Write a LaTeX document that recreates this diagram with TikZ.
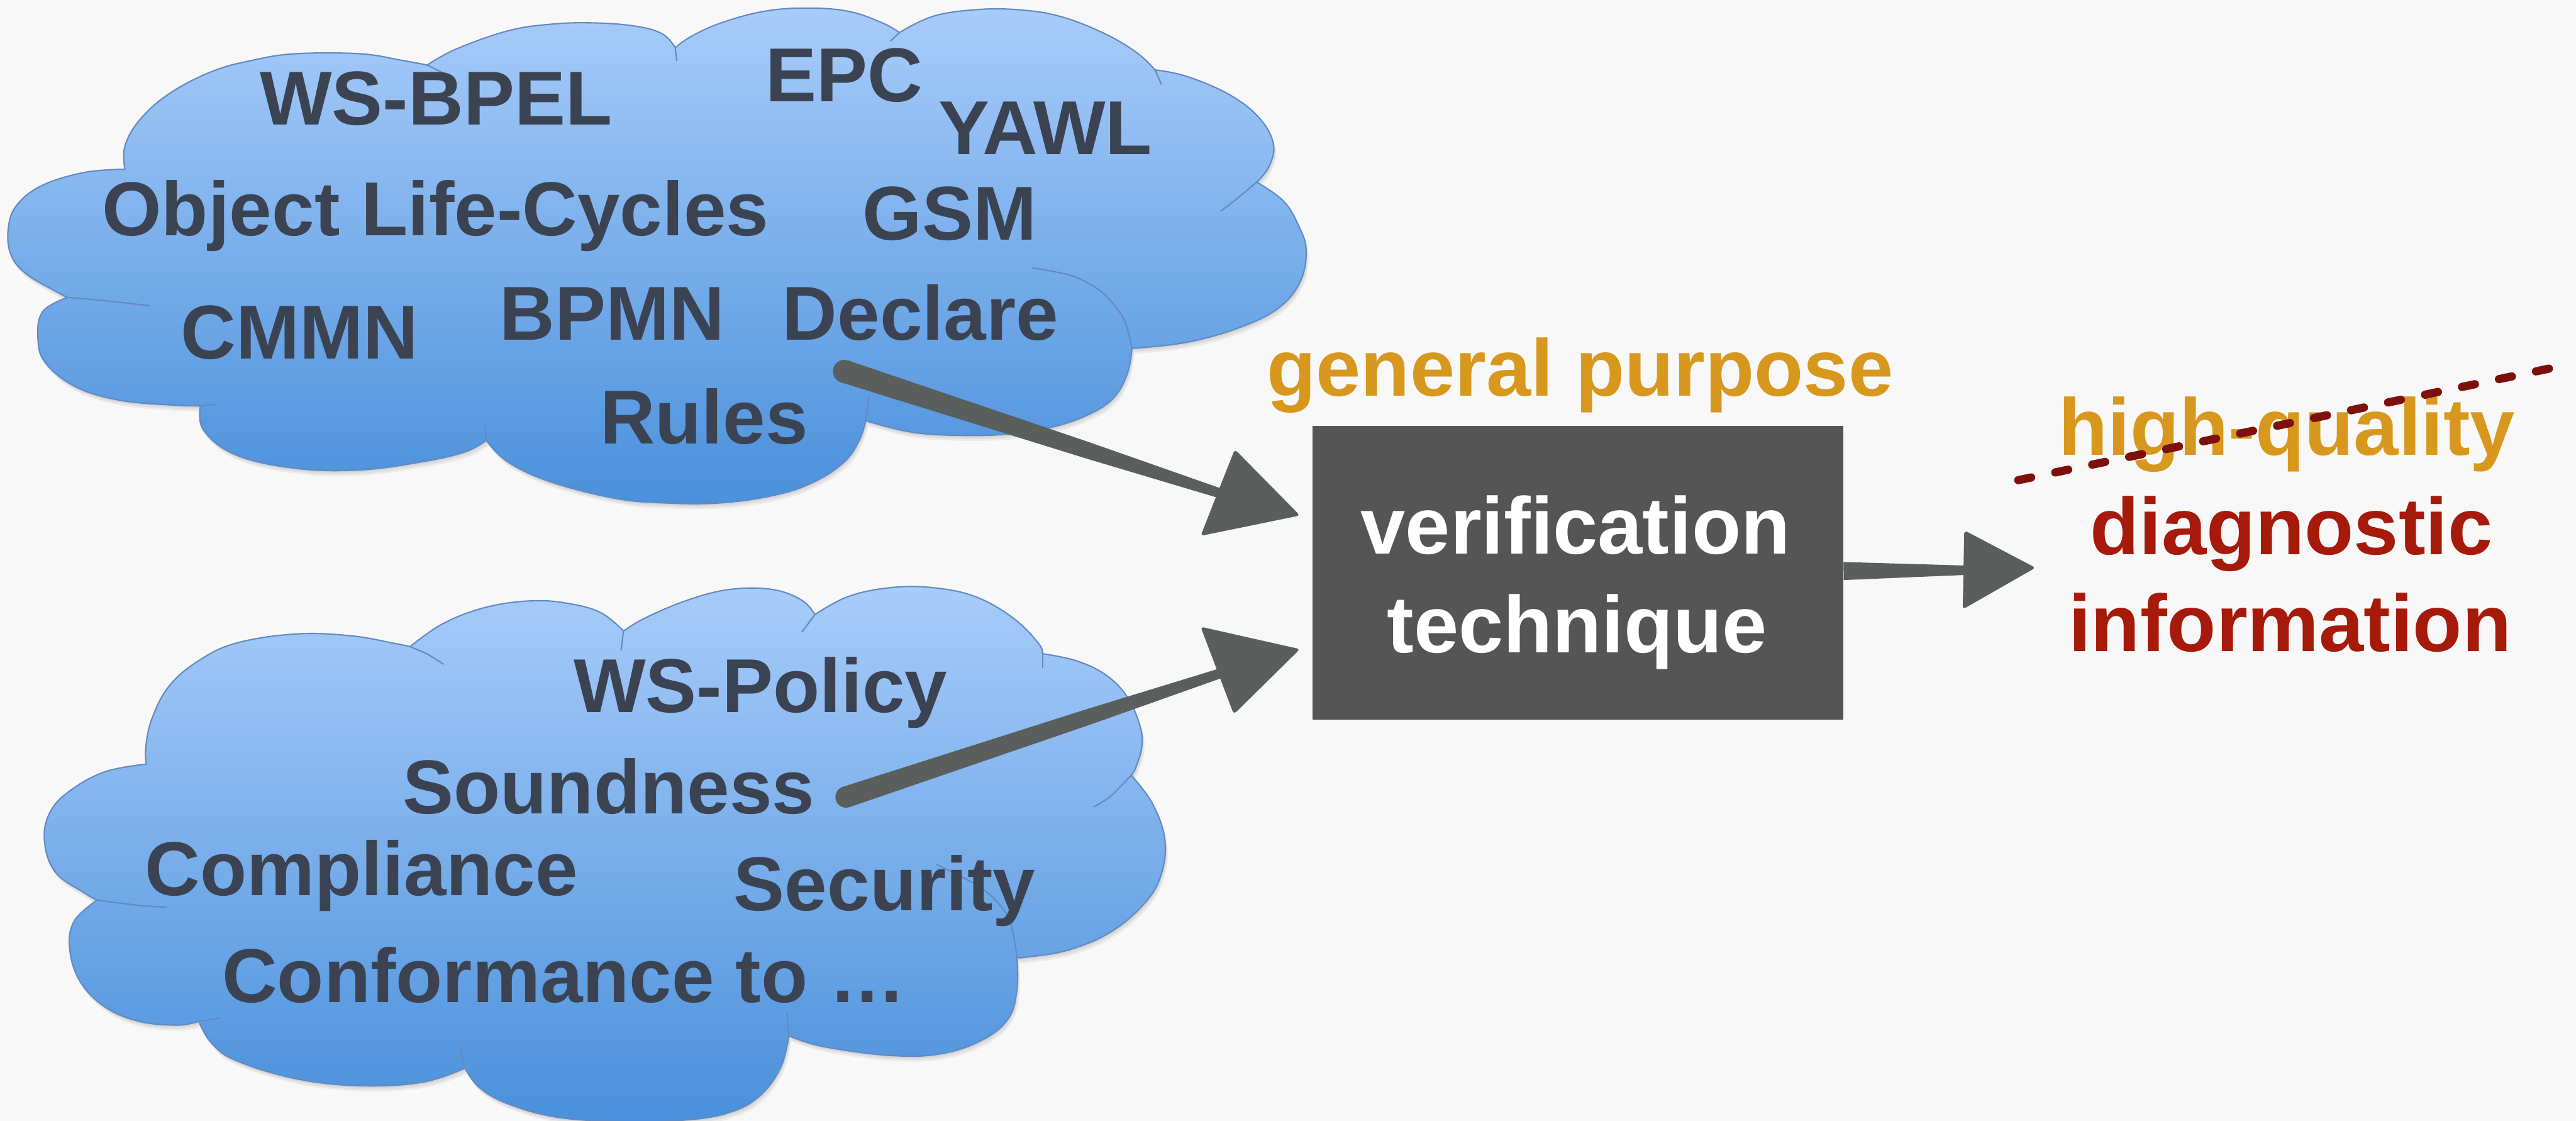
\documentclass[tikz,border=0pt]{standalone}
\usepackage{fontspec}
\setmainfont{Liberation Sans}
\usetikzlibrary{calc}

\definecolor{bgc}{RGB}{248,248,248}
\definecolor{cloudtext}{RGB}{59,67,82}
\definecolor{cloudtop}{RGB}{168,204,250}
\definecolor{cloudbot}{RGB}{74,144,219}
\definecolor{cloudline}{RGB}{98,138,194}
\definecolor{gold}{RGB}{216,152,30}
\definecolor{darkred}{RGB}{166,26,12}
\definecolor{strike}{RGB}{125,16,10}
\definecolor{boxgray}{RGB}{85,85,85}
\definecolor{arrowgray}{RGB}{90,94,92}

% outline of the upper cloud, lobe by lobe
\def\topcloud{plot[smooth,tension=0.65] coordinates {(76,103) (76,89) (85,73) (103,57) (129,43.5) (154,36.6) (180,32.7) (219,32.7) (244,36.6) (260,39.6)}
 -- plot[smooth,tension=0.65] coordinates {(260,39.6) (278,29.7) (309,18.8) (334.5,14.8) (360,13.9) (386,15.8) (403,20.5) (411,29)}
 -- plot[smooth,tension=0.65] coordinates {(411,29) (421,22) (439,13.9) (465,6.9) (491,4.9) (516.5,6.9) (537,13.9) (547.5,19.8)}
 -- plot[smooth,tension=0.65] coordinates {(547.5,19.8) (568,9.9) (594,5.9) (619.5,5.9) (645,9.9) (671,19.8) (691.5,31.7) (703,42.5)}
 -- plot[smooth,tension=0.65] coordinates {(703,42.5) (722.4,46.5) (748,57.4) (766,71.2) (775,87) (772.6,101) (765,110.8)}
 -- plot[smooth,tension=0.65] coordinates {(765,110.8) (781.6,122.7) (791,138.5) (795,152) (792,170) (780,186) (758,198) (724,208) (689,212)}
 -- plot[smooth,tension=0.65] coordinates {(689,212) (686,228) (677,243) (661,253) (640,260) (615,264) (587,265) (555,263) (527,256)}
 -- plot[smooth,tension=0.65] coordinates {(527,256) (523,268) (514,281) (496,293) (473,301) (439,306) (403,306) (373,303) (334.5,293) (309,281) (296,268)}
 -- plot[smooth,tension=0.65] coordinates {(296,268) (283,275) (257,281) (219,286) (180,285) (144,277) (124,262) (122,247)}
 -- plot[smooth,tension=0.65] coordinates {(122,247) (103,246.4) (72,243.4) (46.3,235.5) (28.3,221.6) (23.2,207.8) (25.7,190) (41,181)}
 -- plot[smooth,tension=0.65] coordinates {(41,181) (33.4,177) (15.4,166.2) (6.4,154.4) (5.1,138.5) (10.3,124.7) (25.7,112.8) (51.5,104.9) (76,103)}
 -- cycle}

% outline of the lower cloud
\def\botcloud{plot[smooth,tension=0.65] coordinates {(89,465) (88.8,454) (92.6,437) (103,417.4) (121,402) (144,391.3) (180,385.8) (213.6,386.9) (240,391.5) (249.6,393.5)}
 -- plot[smooth,tension=0.65] coordinates {(249.6,393.5) (270,379.3) (296,369.5) (324,365.6) (347,367.4) (366,373) (379.5,384)}
 -- plot[smooth,tension=0.65] coordinates {(379.5,384) (392.8,376) (418.5,365.2) (444.2,358.7) (470,358.7) (488,365.2) (496,374)}
 -- plot[smooth,tension=0.65] coordinates {(496,374) (516.3,363) (542,357.6) (567.7,357.6) (593.5,363) (616.6,376) (632,391.3) (634.6,397.8)}
 -- plot[smooth,tension=0.65] coordinates {(634.6,397.8) (655.2,402.1) (673.2,410.8) (686,423.9) (693.8,441.3) (695,454.3) (691.2,467.3) (688.6,471.7)}
 -- plot[smooth,tension=0.65] coordinates {(688.6,471.7) (701.5,489) (709,510.8) (706.7,532.5) (696.4,550) (675.8,567.3) (650,578.2) (624.3,582.5) (619,582.5)}
 -- plot[smooth,tension=0.65] coordinates {(619,582.5) (619,602) (614,619.4) (598.6,632.5) (573,641.2) (542,642.3) (500.8,636.8) (480.2,630.3)}
 -- plot[smooth,tension=0.65] coordinates {(480.2,630.3) (475,650) (462,667.3) (444,677) (418,681.5) (380,682.5) (340,680) (310,672) (292,662) (283,650)}
 -- plot[smooth,tension=0.65] coordinates {(283,650) (257,658.6) (218.7,660.7) (180,656.4) (144,645.5) (128.7,634.7) (121,621.6)}
 -- plot[smooth,tension=0.65] coordinates {(121,621.6) (108,623.8) (85,621.6) (64.3,613) (49,597.7) (42.5,578.2) (45,560.8) (59,547.7)}
 -- plot[smooth,tension=0.65] coordinates {(59,547.7) (51.5,543.4) (33.4,530.4) (27,510.8) (30.9,493.4) (43.7,480.4) (64.3,469.5) (89,465)}
 -- cycle}

\begin{document}
\begin{tikzpicture}[x=1pt,y=-1pt,
  term/.style={anchor=base west, inner sep=0pt, text=cloudtext,
    font=\fontsize{46.5}{50}\selectfont\bfseries},
  bigword/.style={anchor=base west, inner sep=0pt,
    font=\fontsize{49}{54}\selectfont\bfseries},
  cloudfill/.style={top color=cloudtop, bottom color=cloudbot, draw=cloudline, line width=0.8pt},
  cloudshadow/.style={fill=black, opacity=0.05},
  innerarc/.style={draw=cloudline, line width=0.8pt},
  techbox/.style={fill=boxgray, draw=none, minimum width=323pt, minimum height=179pt, inner sep=0pt},
  techword/.style={anchor=base, inner sep=0pt, text=white,
    font=\fontsize{49}{54}\selectfont\bfseries},
  shaft/.style={fill=arrowgray},
  head/.style={fill=arrowgray, rounded corners=2pt}]

% canvas
\fill[bgc] (0,0) rectangle (1568,682);
\useasboundingbox (0,0) rectangle (1568,682);

% soft shadows under the clouds
\foreach \d in {1,2,3} {
  \fill[cloudshadow, shift={(0.5*\d,1.1*\d)}] \topcloud;
  \fill[cloudshadow, shift={(0.5*\d,1.1*\d)}] \botcloud;
}

% clouds
\shadedraw[cloudfill] \topcloud;
\shadedraw[cloudfill] \botcloud;

% inner folds of the upper cloud
\draw[innerarc] plot[smooth] coordinates {(41,181) (64,183) (91,186)};
\draw[innerarc] plot[smooth] coordinates {(765,110.8) (754,120) (743,128.6)};
\draw[innerarc] plot[smooth] coordinates {(689,212) (684,194) (671,178) (653,168) (628.5,163)};
\draw[innerarc] (260,39.6) -- (272,45.5);
\draw[innerarc] (411,29) -- (412,37);
\draw[innerarc] (547.5,19.8) -- (542,25);
\draw[innerarc] (703,42.5) -- (707,51.5);
\draw[innerarc] (527,256) -- (529,241);
\draw[innerarc] (296,268) -- (295,258);
\draw[innerarc] (122,247) -- (132,246);

% inner folds of the lower cloud
\draw[innerarc] plot[smooth] coordinates {(249.6,393.5) (260,398) (270,404.3)};
\draw[innerarc] (379.5,384) -- (378,396);
\draw[innerarc] (496,374) -- (488,384.8);
\draw[innerarc] (634.6,397.8) -- (634.6,406.5);
\draw[innerarc] plot[smooth] coordinates {(688.6,471.7) (675.8,484.7) (665.5,491.2)};
\draw[innerarc] plot[smooth] coordinates {(570,526) (598.6,541.2) (614,558.6) (619,582.5)};
\draw[innerarc] (480.2,630.3) -- (479,616);
\draw[innerarc] (283,650) -- (280,638);
\draw[innerarc] (121,621.6) -- (134,619.4);
\draw[innerarc] plot[smooth] coordinates {(59,547.7) (85,551) (101.6,552.1)};

% terms of the upper cloud
\node[term] (wsbpel)  at (158,76)    {WS-BPEL};
\node[term] (epc)     at (466,62)    {EPC};
\node[term] (yawl)    at (571,94)    {YAWL};
\node[term] (olc)     at (62,143.5)  {Object Life-Cycles};
\node[term] (gsm)     at (525,146)   {GSM};
\node[term] (cmmn)    at (110,218.5) {CMMN};
\node[term] (bpmn)    at (304,207)   {BPMN};
\node[term] (declare) at (476,207)   {Declare};
\node[term] (rules)   at (365,270)   {Rules};

% terms of the lower cloud
\node[term] (wspolicy)   at (349,433.7) {WS-Policy};
\node[term] (soundness)  at (245,495)   {Soundness};
\node[term] (compliance) at (88,545)    {Compliance};
\node[term] (security)   at (446.5,554) {Security};
\node[term] (conformance) at (135,610)  {Conformance to …};

% central box
\node[techbox] (tech) at (960.5,348.5) {};
\node[techword] (techA) at (959,337) {verification};
\node[techword] (techB) at (960,397) {technique};

\node[bigword, text=gold] (purpose) at (771,241) {general purpose};

% result labels
\node[bigword, text=gold]    (quality) at (1253,277)   {high-quality};
\node[bigword, text=darkred] (diag)    at (1272,337.6) {diagnostic};
\node[bigword, text=darkred] (info)    at (1259,396.4) {information};

\coordinate (sA) at (1228.5,292.2);
\coordinate (sB) at (1555,223.6);
\draw[strike, line width=5pt, line cap=round, dash pattern=on 8pt off 15pt] (sA) -- (sB);

% arrow from the upper cloud
\coordinate (a1s) at (514,226);
\coordinate (a1e) at (742,300);
\coordinate (a1m) at ($(a1s)!0.65!(a1e)$);
\fill[shaft] (a1s) circle (7);
\fill[shaft] ($(a1s)!7pt!90:(a1e)$) -- ($(a1m)!5pt!90:(a1e)$) -- ($(a1e)!3pt!-90:(a1s)$)
  -- ($(a1e)!3pt!90:(a1s)$) -- ($(a1m)!5pt!-90:(a1e)$) -- ($(a1s)!7pt!-90:(a1e)$) -- cycle;
\coordinate (h1a) at (751.6,273.4);
\coordinate (h1b) at (791.3,313.7);
\coordinate (h1c) at (730.8,326.1);
\fill[head] (h1a) -- (h1b) -- (h1c) -- cycle;

% arrow from the lower cloud
\coordinate (a2s) at (515,485);
\coordinate (a2e) at (742,410);
\coordinate (a2m) at ($(a2s)!0.65!(a2e)$);
\fill[shaft] (a2s) circle (6.5);
\fill[shaft] ($(a2s)!6.5pt!90:(a2e)$) -- ($(a2m)!4.8pt!90:(a2e)$) -- ($(a2e)!3pt!-90:(a2s)$)
  -- ($(a2e)!3pt!90:(a2s)$) -- ($(a2m)!4.8pt!-90:(a2e)$) -- ($(a2s)!6.5pt!-90:(a2e)$) -- cycle;
\coordinate (h2a) at (730.8,381.4);
\coordinate (h2b) at (791.3,395);
\coordinate (h2c) at (751,434.7);
\fill[head] (h2a) -- (h2b) -- (h2c) -- cycle;

% arrow out of the box
\coordinate (a3s) at (tech.east |- 0,347.5);
\coordinate (a3e) at (1198,347);
\fill[shaft] ($(a3s)!5.5pt!90:(a3e)$) -- ($(a3e)!2.8pt!-90:(a3s)$) -- ($(a3e)!2.8pt!90:(a3s)$) -- ($(a3s)!5.5pt!-90:(a3e)$) -- cycle;
\coordinate (h3a) at (1195.6,322.7);
\coordinate (h3b) at (1239,345.5);
\coordinate (h3c) at (1194.7,370.8);
\fill[head] (h3a) -- (h3b) -- (h3c) -- cycle;

\end{tikzpicture}
\end{document}
